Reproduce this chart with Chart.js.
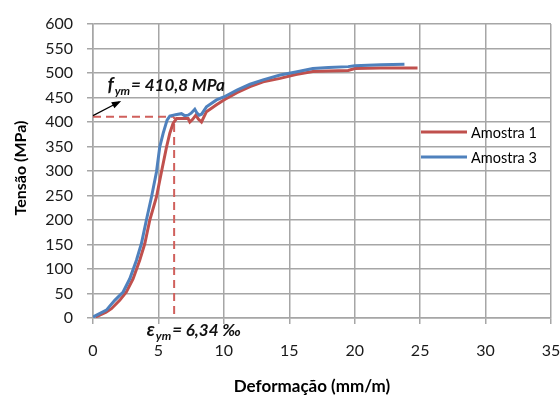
<!DOCTYPE html>
<html>
<head>
<meta charset="utf-8">
<script src="https://cdn.jsdelivr.net/npm/chart.js@4.4.1/dist/chart.umd.min.js"></script>
<style>
  html, body { margin: 0; padding: 0; background: #fff; }
  #wrap { width: 560px; height: 397px; }
</style>
</head>
<body>
<div id="wrap"><canvas id="grafico" width="560" height="397"></canvas></div>
<script>
// Dados (deformação em mm/m, tensão em MPa)
const amostra1X = [0.2, 0.51, 1.0, 1.41, 2.04, 2.55, 3.06, 3.57, 3.96, 4.34, 4.85, 5.23, 5.62, 5.87, 6.12, 6.38, 6.8, 7.27, 7.4, 7.6, 7.86, 8.05, 8.29, 8.67, 9.44, 10, 11, 12, 13, 14.3, 15.5, 16.8, 18, 19.5, 20, 22, 24.8];
const amostra1Y = [2, 6, 12, 19, 36, 53, 80, 118, 152, 200, 247, 298, 349, 377, 397, 407, 407, 407, 400, 405, 414, 406, 400, 421, 435, 445, 460, 472, 482, 489, 497, 503, 504, 505, 509, 510, 510];

const amostra3X = [0, 1.02, 1.66, 2.3, 2.81, 3.32, 3.7, 4.08, 4.47, 4.85, 5.1, 5.36, 5.66, 5.87, 6.3, 6.76, 7.0, 7.27, 7.5, 7.78, 7.95, 8.11, 8.3, 8.67, 9.44, 10, 11, 12, 13, 14.3, 15.5, 16.8, 18, 19.5, 20, 22, 23.8];
const amostra3Y = [2, 16, 36, 53, 80, 118, 152, 200, 247, 298, 349, 377, 404, 412, 415, 417, 413, 414, 418, 426, 418, 414, 416, 431, 445, 451, 465, 477, 486, 496, 502, 509, 511, 513, 515, 517, 518];

const series = ['Amostra 1', 'Amostra 3'];
const cores = ['#C0504D', '#4F81BD'];

// Valores de escoamento médios
const fym = 410.8;      // MPa
const eymLinha = 6.2;   // posição da linha tracejada no gráfico

const eixoX = { min: 0, max: 35, passo: 5 };
const eixoY = { min: 0, max: 600, passo: 50 };
const tituloX = 'Deformação (mm/m)';
const tituloY = 'Tensão (MPa)';

function pares(xs, ys) {
  return xs.map((x, i) => ({ x: x, y: ys[i] }));
}

Chart.defaults.font.family = 'Lato, "Open Sans", sans-serif';

// Plugin para títulos dos eixos, legenda, seta e rótulos de escoamento
const anotacoes = {
  id: 'anotacoes',
  afterDraw(chart) {
    const c = chart.ctx;
    const sx = chart.scales.x;
    const sy = chart.scales.y;

    // títulos dos eixos
    c.save();
    c.fillStyle = '#000';
    c.textAlign = 'center';
    c.textBaseline = 'middle';
    c.font = 'bold 17px Lato, sans-serif';
    c.fillText(tituloX, 312, 387);
    c.translate(21, 168);
    c.rotate(-Math.PI / 2);
    c.font = 'bold 16px Lato, sans-serif';
    c.fillText(tituloY, 0, 0);
    c.restore();

    // legenda
    c.save();
    c.font = '14.5px Lato, sans-serif';
    c.textBaseline = 'middle';
    c.fillStyle = '#000';
    series.forEach((nome, i) => {
      const y = 132 + i * 25;
      c.strokeStyle = cores[i];
      c.lineWidth = 3;
      c.beginPath();
      c.moveTo(421, y);
      c.lineTo(467, y);
      c.stroke();
      c.fillText(nome, 471, y + 1);
    });
    c.restore();

    // seta
    const x0 = sx.getPixelForValue(0), y0 = sy.getPixelForValue(413);
    const x1 = sx.getPixelForValue(2.0), y1 = sy.getPixelForValue(441);
    c.save();
    c.strokeStyle = '#000';
    c.fillStyle = '#000';
    c.lineWidth = 1.2;
    c.beginPath();
    c.moveTo(x0, y0);
    c.lineTo(x1, y1);
    c.stroke();
    const ang = Math.atan2(y1 - y0, x1 - x0);
    c.beginPath();
    c.moveTo(x1 + 2, y1 - 1);
    c.lineTo(x1 - 8 * Math.cos(ang - 0.45), y1 - 8 * Math.sin(ang - 0.45));
    c.lineTo(x1 - 8 * Math.cos(ang + 0.45), y1 - 8 * Math.sin(ang + 0.45));
    c.closePath();
    c.fill();
    c.restore();

    // rótulo f_ym
    c.save();
    c.fillStyle = '#111';
    c.textBaseline = 'alphabetic';
    let px = sx.getPixelForValue(1.1);
    let py = 91;
    c.font = 'italic bold 19px Lato, sans-serif';
    c.fillText('f', px, py);
    px += c.measureText('f').width + 1;
    c.font = 'italic bold 12px Lato, sans-serif';
    c.fillText('ym', px, py + 4);
    px += c.measureText('ym').width + 1;
    c.font = 'italic bold 17px Lato, sans-serif';
    c.fillText('= ' + fym.toFixed(1).replace('.', ',') + ' MPa', px, py);

    // rótulo ε_ym
    px = sx.getPixelForValue(4.1);
    py = 336;
    c.font = 'italic bold 19px Lato, sans-serif';
    c.fillText('ε', px, py);
    px += c.measureText('ε').width + 1;
    c.font = 'italic bold 12px Lato, sans-serif';
    c.fillText('ym', px, py + 4);
    px += c.measureText('ym').width + 1;
    c.font = 'italic bold 17px Lato, sans-serif';
    c.fillText('= 6,34 ‰', px, py);
    c.restore();
  }
};

const ctx = document.getElementById('grafico').getContext('2d');
const grafico = new Chart(ctx, {
  type: 'line',
  data: {
    datasets: [
      {
        label: series[0],
        data: pares(amostra1X, amostra1Y),
        borderColor: cores[0],
        borderWidth: 3,
        order: 2
      },
      {
        label: series[1],
        data: pares(amostra3X, amostra3Y),
        borderColor: cores[1],
        borderWidth: 3,
        order: 1
      },
      {
        label: 'fym',
        data: [{ x: 0, y: fym }, { x: eymLinha, y: fym }],
        borderColor: '#D0605C',
        borderWidth: 2,
        borderDash: [8, 5],
        order: 3
      },
      {
        label: 'eym',
        data: [{ x: eymLinha, y: 8 }, { x: eymLinha, y: fym }],
        borderColor: '#D0605C',
        borderWidth: 2,
        borderDash: [8, 5],
        order: 3
      }
    ]
  },
  options: {
    responsive: false,
    animation: false,
    layout: { padding: { top: 24, right: 9, left: 0, bottom: 0 } },
    elements: {
      point: { radius: 0 },
      line: { tension: 0, fill: false }
    },
    plugins: {
      legend: { display: false },
      tooltip: { enabled: false }
    },
    scales: {
      x: {
        type: 'linear',
        min: eixoX.min,
        max: eixoX.max,
        afterFit(scale) {
          scale.height = 79;
          scale.paddingLeft = 0;
          scale.paddingRight = 0;
        },
        ticks: { stepSize: eixoX.passo, color: '#1a1a1a', font: { size: 16 }, padding: 17, maxRotation: 0 },
        grid: { color: '#a6a6a6', lineWidth: 1.5, tickLength: 6 },
        border: { color: '#a6a6a6', width: 1.5 }
      },
      y: {
        min: eixoY.min,
        max: eixoY.max,
        afterFit(scale) {
          scale.width = 93;
          scale.paddingTop = 0;
          scale.paddingBottom = 0;
        },
        ticks: { stepSize: eixoY.passo, color: '#1a1a1a', font: { size: 16 }, padding: 14 },
        grid: { color: '#a6a6a6', lineWidth: 1.5, tickLength: 6 },
        border: { color: '#a6a6a6', width: 1.5 }
      }
    }
  },
  plugins: [anotacoes]
});
</script>
</body>
</html>
